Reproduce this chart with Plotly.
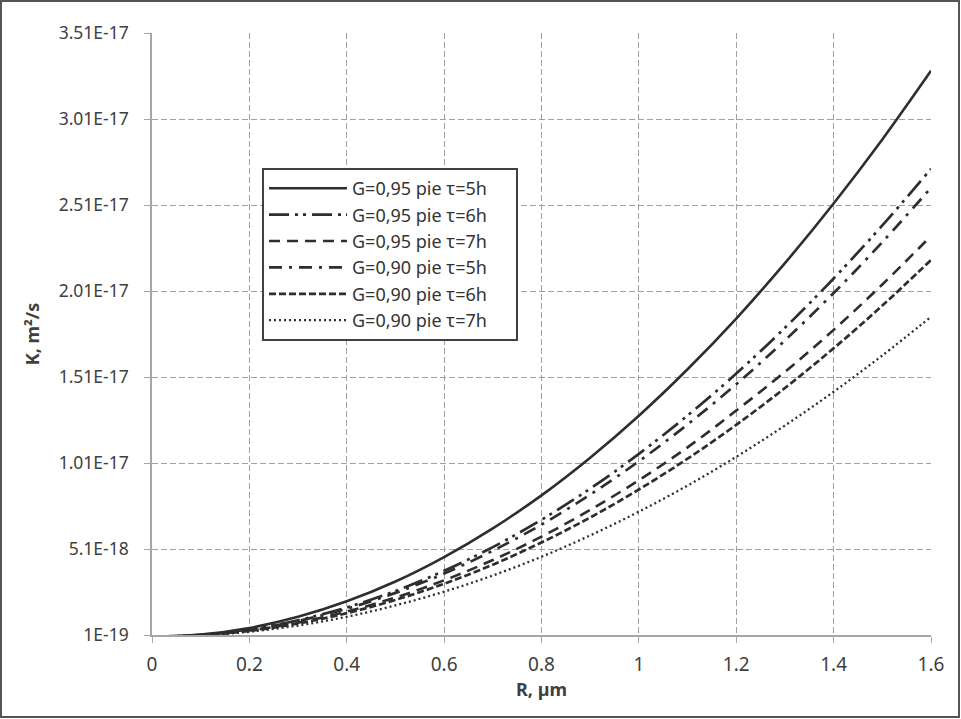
import plotly.graph_objects as go

# R, um
r_vals = [0, 0.1, 0.2, 0.3, 0.4, 0.5, 0.6, 0.7, 0.8, 0.9, 1.0, 1.1, 1.2, 1.3, 1.4, 1.5, 1.6]

# K, m2/s (in units of 1E-17)
k_095_5h = [0, 0.013, 0.051, 0.116, 0.206, 0.321, 0.463, 0.630, 0.822, 1.041, 1.285, 1.555, 1.850, 2.172, 2.519, 2.891, 3.290]
k_095_6h = [0, 0.011, 0.043, 0.096, 0.170, 0.266, 0.383, 0.521, 0.680, 0.861, 1.063, 1.286, 1.530, 1.796, 2.083, 2.391, 2.720]
k_095_7h = [0, 0.009, 0.036, 0.082, 0.146, 0.228, 0.328, 0.446, 0.582, 0.737, 0.910, 1.101, 1.315, 1.540, 1.784, 2.048, 2.330]
k_090_5h = [0, 0.010, 0.041, 0.092, 0.163, 0.255, 0.367, 0.500, 0.652, 0.826, 1.020, 1.234, 1.468, 1.723, 1.998, 2.294, 2.610]
k_090_6h = [0, 0.009, 0.034, 0.077, 0.137, 0.214, 0.308, 0.419, 0.548, 0.693, 0.856, 1.035, 1.232, 1.446, 1.677, 1.925, 2.190]
k_090_7h = [0, 0.007, 0.029, 0.065, 0.116, 0.182, 0.262, 0.356, 0.465, 0.589, 0.727, 0.879, 1.046, 1.228, 1.424, 1.635, 1.860]

names = ["G=0,95 pie τ=5h", "G=0,95 pie τ=6h", "G=0,95 pie τ=7h",
         "G=0,90 pie τ=5h", "G=0,90 pie τ=6h", "G=0,90 pie τ=7h"]

y_ticks = [1e-19, 5.1e-18, 1.01e-17, 1.51e-17, 2.01e-17, 2.51e-17, 3.01e-17, 3.51e-17]
y_labels = ["1E-19", "5.1E-18", "1.01E-17", "1.51E-17", "2.01E-17", "2.51E-17", "3.01E-17", "3.51E-17"]
x_ticks = [0, 0.2, 0.4, 0.6, 0.8, 1.0, 1.2, 1.4, 1.6]
x_labels = ["0", "0.2", "0.4", "0.6", "0.8", "1", "1.2", "1.4", "1.6"]

series = [k_095_5h, k_095_6h, k_095_7h, k_090_5h, k_090_6h, k_090_7h]
dashes = ["solid", "20px,6px,3px,5px,3px,6px", "11px,7px",
          "13px,7px,3px,7px", "7px,3px", "2px,3px"]
widths = [2.6, 2.7, 2.6, 2.7, 2.7, 2.3]

LINE = "#2e2e2e"
TEXT = "#404040"
FONT = "Noto Sans"
PAD = "\u00a0" * 5   # a little room after the legend text

fig = go.Figure()
for ys, nm, ds, w in zip(series, names, dashes, widths):
    fig.add_trace(go.Scatter(
        x=r_vals, y=[v * 1e-17 for v in ys], name=nm + PAD, mode="lines",
        line=dict(color=LINE, width=w, dash=ds, shape="spline"),
    ))

W, H = 961, 719
ml, mr, mt, mb = 152, 30, 33, 84

fig.update_layout(
    width=W, height=H,
    margin=dict(l=ml, r=mr, t=mt, b=mb),
    paper_bgcolor="white", plot_bgcolor="white",
    font=dict(family=FONT, size=17, color=TEXT),
    xaxis=dict(
        range=[0, 1.6], tickvals=x_ticks, ticktext=x_labels,
        tickfont=dict(size=19), ticklabelstandoff=5,
        showgrid=True, gridcolor="#a0a0a0", griddash="6px,3px", gridwidth=1,
        showline=True, linecolor="#a6a6a6", linewidth=1.5,
        ticks="outside", ticklen=6, tickcolor="#a6a6a6",
        zeroline=False,
        title=dict(text="<b>R, µm</b>", font=dict(size=18, color=TEXT), standoff=8),
    ),
    yaxis=dict(
        range=[1e-19, 3.51e-17], tickvals=y_ticks, ticktext=y_labels,
        tickfont=dict(size=17.5), ticklabelstandoff=12,
        showgrid=True, gridcolor="#a0a0a0", griddash="6px,3px", gridwidth=1,
        showline=True, linecolor="#a6a6a6", linewidth=1.5,
        ticks="outside", ticklen=6, tickcolor="#a6a6a6",
        zeroline=False,
        title=dict(text="<b>K, m²/s</b>", font=dict(size=18, color=TEXT), standoff=14),
    ),
    legend=dict(
        x=(262 - ml) / (W - ml - mr), y=(H - mb - 168) / (H - mt - mb),
        xanchor="left", yanchor="top",
        bgcolor="white", bordercolor="#404040", borderwidth=2,
        font=dict(family=FONT, size=18, color="#333333"),
        itemwidth=78,
    ),
)

# outer frame round the whole picture
pw, ph = W - ml - mr, H - mt - mb
fig.add_shape(type="rect", xref="paper", yref="paper",
              x0=(1 - ml) / pw, x1=1 + (mr - 2) / pw,
              y0=-(mb - 2) / ph, y1=1 + (mt - 1) / ph,
              line=dict(color="#555555", width=2), layer="above")

fig.write_html("out.html", config={"displayModeBar": False},
               post_script="document.body.style.margin='0';")
